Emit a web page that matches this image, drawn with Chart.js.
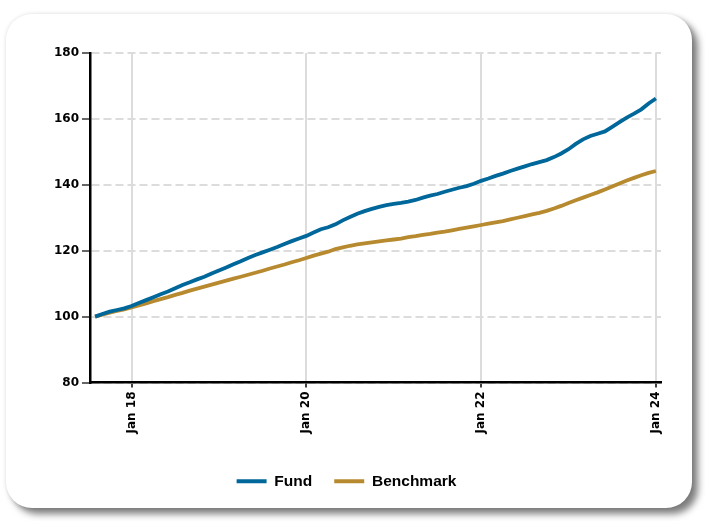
<!DOCTYPE html>
<html><head><meta charset="utf-8">
<script src="https://cdn.jsdelivr.net/npm/chart.js@4.4.1/dist/chart.umd.min.js"></script>
<style>
html,body{margin:0;padding:0;background:#fff;width:705px;height:521px;overflow:hidden;}
#card{position:absolute;left:6px;top:14px;width:686px;height:494px;background:#fff;border-radius:26px;box-shadow:6px 6px 7px rgba(0,0,0,0.5),0 0 4px rgba(0,0,0,0.12);}
#wrap{position:absolute;left:0;top:0;width:705px;height:521px;}
</style></head><body>
<div id="card"></div>
<div id="wrap"><canvas id="c" width="705" height="521"></canvas></div>
<script>
const months = [
 'Aug 17','Sep 17','Oct 17','Nov 17','Dec 17',
 'Jan 18','Feb 18','Mar 18','Apr 18','May 18','Jun 18','Jul 18','Aug 18','Sep 18','Oct 18','Nov 18','Dec 18',
 'Jan 19','Feb 19','Mar 19','Apr 19','May 19','Jun 19','Jul 19','Aug 19','Sep 19','Oct 19','Nov 19','Dec 19',
 'Jan 20','Feb 20','Mar 20','Apr 20','May 20','Jun 20','Jul 20','Aug 20','Sep 20','Oct 20','Nov 20','Dec 20',
 'Jan 21','Feb 21','Mar 21','Apr 21','May 21','Jun 21','Jul 21','Aug 21','Sep 21','Oct 21','Nov 21','Dec 21',
 'Jan 22','Feb 22','Mar 22','Apr 22','May 22','Jun 22','Jul 22','Aug 22','Sep 22','Oct 22','Nov 22','Dec 22',
 'Jan 23','Feb 23','Mar 23','Apr 23','May 23','Jun 23','Jul 23','Aug 23','Sep 23','Oct 23','Nov 23','Dec 23',
 'Jan 24'
];
const fund = [
 100.0,100.8,101.5,102.0,102.5,103.2,104.1,105.0,105.9,106.8,
 107.6,108.6,109.6,110.4,111.3,112.1,113.1,114.0,114.9,115.9,
 116.8,117.8,118.7,119.5,120.3,121.1,122.0,122.9,123.7,124.5,
 125.5,126.5,127.1,128.0,129.2,130.2,131.2,132.0,132.7,133.3,
 133.8,134.2,134.5,134.9,135.4,136.1,136.7,137.2,137.9,138.5,
 139.1,139.6,140.3,141.2,141.9,142.7,143.4,144.2,144.9,145.6,
 146.3,146.9,147.5,148.4,149.5,150.8,152.4,153.8,154.8,155.5,
 156.2,157.6,159.0,160.4,161.6,162.9,164.7,166.2
];
const benchmark = [
 100.0,100.6,101.2,101.7,102.2,102.8,103.4,104.0,104.7,105.3,
 105.9,106.6,107.2,107.9,108.5,109.1,109.7,110.3,110.9,111.5,
 112.1,112.7,113.3,113.9,114.6,115.2,115.8,116.5,117.1,117.8,
 118.5,119.1,119.7,120.5,121.0,121.5,121.9,122.2,122.5,122.8,
 123.1,123.4,123.7,124.1,124.4,124.8,125.1,125.5,125.8,126.2,
 126.6,127.0,127.4,127.8,128.2,128.6,129.0,129.5,130.0,130.5,
 131.0,131.5,132.1,132.8,133.6,134.5,135.3,136.1,136.9,137.7,
 138.6,139.5,140.4,141.3,142.1,142.9,143.6,144.2
];
const tickLabels = ['Jan 18','Jan 20','Jan 22','Jan 24'];
const yTicks = [80,100,120,140,160,180];

const BLUE = '#00679b';
const GOLD = '#b78a30';
const tickIdx = tickLabels.map(l => months.indexOf(l));
const tickFont = {family:'DejaVu Sans', weight:'bold', size:12};

new Chart(document.getElementById('c'), {
  type:'line',
  data:{
    datasets:[
      {label:'Fund', data: fund.map((v,i)=>({x:i,y:v})), borderColor:BLUE, backgroundColor:BLUE, borderWidth:3.8, pointRadius:0, tension:0},
      {label:'Benchmark', data: benchmark.map((v,i)=>({x:i,y:v})), borderColor:GOLD, backgroundColor:GOLD, borderWidth:3.8, pointRadius:0, tension:0}
    ]
  },
  options:{
    responsive:false, animation:false, devicePixelRatio:1,
    layout:{padding:{left:32,right:44,top:53,bottom:22}},
    plugins:{
      tooltip:{enabled:false},
      legend:{
        position:'bottom',
        labels:{
          boxWidth:30, boxHeight:4, padding:22, color:'#000',
          font:{family:'Liberation Sans', weight:'bold', size:15.5},
          generateLabels:(chart)=>Chart.defaults.plugins.legend.labels.generateLabels(chart).map(it=>Object.assign(it,{lineWidth:0}))
        }
      }
    },
    scales:{
      x:{
        type:'linear', bounds:'data', min:-0.7, max:77.7,
        afterBuildTicks:(s)=>{ s.ticks = tickIdx.map(v=>({value:v})); },
        afterFit:(s)=>{ s.height = 69; },
        ticks:{ autoSkip:false, minRotation:90, maxRotation:90, padding:4, color:'#000', font:tickFont,
          callback:(v)=>months[v] },
        grid:{ color:'#dcdcdc', lineWidth:2, tickLength:5, tickColor:'#000', tickWidth:1.5 },
        border:{ display:true, color:'#000', width:2.5, z:1 }
      },
      y:{
        min:80, max:180,
        afterBuildTicks:(s)=>{ s.ticks = yTicks.map(v=>({value:v})); },
        afterFit:(s)=>{ s.width = 58; },
        ticks:{ padding:3, color:'#000', font:tickFont },
        grid:{ color:'#dcdcdc', lineWidth:2, tickLength:8, tickColor:'#000', tickWidth:1.2, tickBorderDash:[] },
        border:{ display:true, color:'#000', width:2.5, dash:[8,4], z:1 }
      }
    }
  }
});
</script>
</body></html>
